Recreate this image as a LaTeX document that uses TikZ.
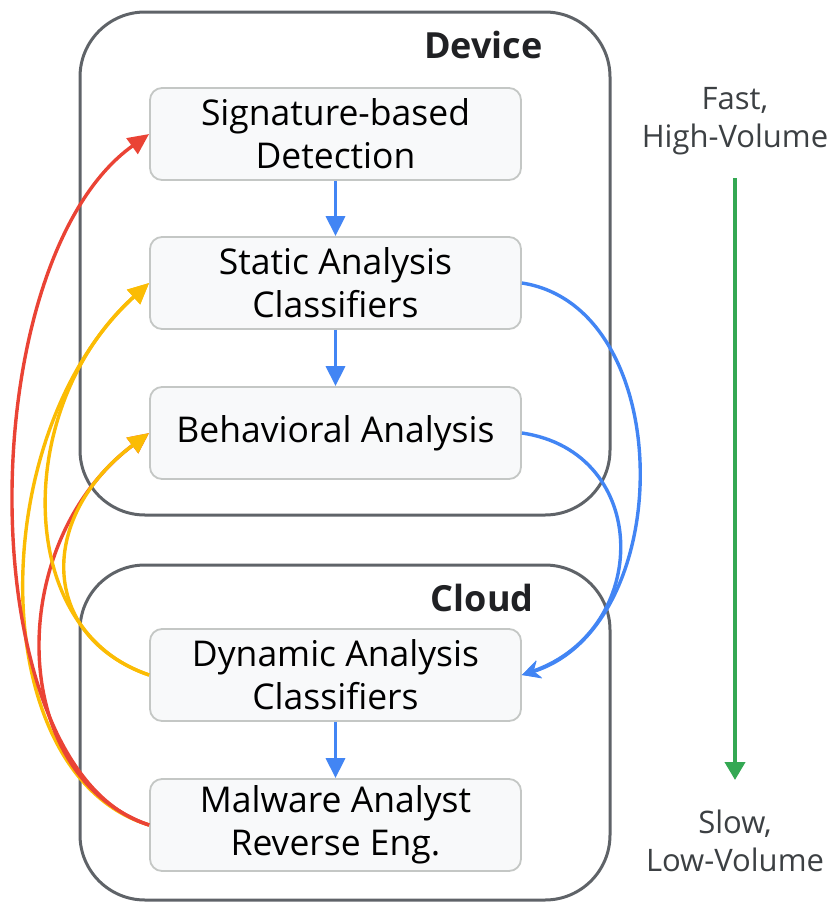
\documentclass[tikz,border=0pt]{standalone}
\usepackage{fontspec}
\setmainfont{Open Sans}
\usetikzlibrary{arrows.meta}

\definecolor{azulG}{HTML}{4285F4}
\definecolor{vermelhoG}{HTML}{EA4335}
\definecolor{amareloG}{HTML}{FBBC04}
\definecolor{verdeG}{HTML}{34A853}
\definecolor{cinzaCaixa}{HTML}{5F6368}
\definecolor{cinzaBorda}{HTML}{C4C7C5}
\definecolor{fundoEtapa}{HTML}{F8F9FA}
\definecolor{textoEscuro}{HTML}{202124}
\definecolor{textoCinza}{HTML}{3C4043}

\begin{document}
\begin{tikzpicture}[x=1pt, y=-1pt,
    caixa/.style={draw=cinzaCaixa, line width=3pt, rounded corners=65pt},
    titulo/.style={anchor=east, text=textoEscuro, font=\fontsize{36}{40}\selectfont\bfseries},
    etapa/.style={draw=cinzaBorda, fill=fundoEtapa, line width=1.8pt, rounded corners=12pt,
      minimum width=371pt, minimum height=92pt, inner sep=0pt, align=center,
      text=black, font=\fontsize{35.5}{43}\selectfont},
    fluxo/.style={draw=azulG, line width=3.4pt, -{Triangle[length=20pt, width=19pt]}},
    escala/.style={text=textoCinza, align=center, font=\fontsize{31}{38}\selectfont},
    retorno/.style={line width=3.4pt, -{Triangle[length=21pt, width=19pt]}}]
  \useasboundingbox (0,0) rectangle (831,902);

  % Caixas Device e Cloud
  \draw[caixa] (80,12) rectangle (610,515);
  \draw[caixa] (80,565) rectangle (610,900);
  \node[titulo] (device) at (546,45) {Device};
  \node[titulo] (cloud) at (537,598) {Cloud};

  % Etapas de analise
  \node[etapa] (assinatura) at (335.5,134) {Signature-based\\Detection};
  \node[etapa] (estatica) at (335.5,283) {Static Analysis\\Classifiers};
  \node[etapa] (comportamento) at (335.5,433) {Behavioral Analysis};
  \node[etapa] (dinamica) at (335.5,675) {Dynamic Analysis\\Classifiers};
  \node[etapa] (analista) at (335.5,825) {Malware Analyst\\Reverse Eng.};

  % Fluxo principal (azul)
  \draw[fluxo] (assinatura) -- (estatica);
  \draw[fluxo] (estatica) -- (comportamento);
  \draw[fluxo] (dinamica) -- (analista);

  % Envio para a nuvem
  \draw[draw=azulG, line width=3.4pt, -{Stealth[length=18pt, width=18pt]}]
    (estatica.east) .. controls +(156,24) and +(156,-48) .. (dinamica.east);
  \draw[draw=azulG, line width=3.4pt, -{Stealth[length=18pt, width=18pt]}]
    (comportamento.east) .. controls +(130,19) and +(130,-45) .. (dinamica.east);

  % Retornos (vermelho e amarelo)
  \draw[retorno, amareloG] (analista.west) .. controls +(-166,-50) and +(-166,151) .. (estatica.west);
  \draw[retorno, vermelhoG] (analista.west) .. controls +(-180,-55) and +(-180,129) .. (assinatura.west);
  \draw[retorno, vermelhoG] (analista.west) .. controls +(-144,-50) and +(-144,108) .. (comportamento.west);
  \draw[retorno, amareloG] (dinamica.west) .. controls +(-136,-45) and +(-136,122) .. (estatica.west);
  \draw[retorno, amareloG] (dinamica.west) .. controls +(-111,-39) and +(-111,83) .. (comportamento.west);

  % Escala de velocidade
  \node[escala] (rapido) at (735,121) {Fast,\\High-Volume};
  \node[escala] (lento) at (735,841) {Slow,\\Low-Volume};
  \coordinate (inicio) at (735,178);
  \coordinate (fim) at (735,780);
  \draw[draw=verdeG, line width=4pt, -{Triangle[length=18pt, width=20pt]}] (inicio) -- (fim);
\end{tikzpicture}
\end{document}
